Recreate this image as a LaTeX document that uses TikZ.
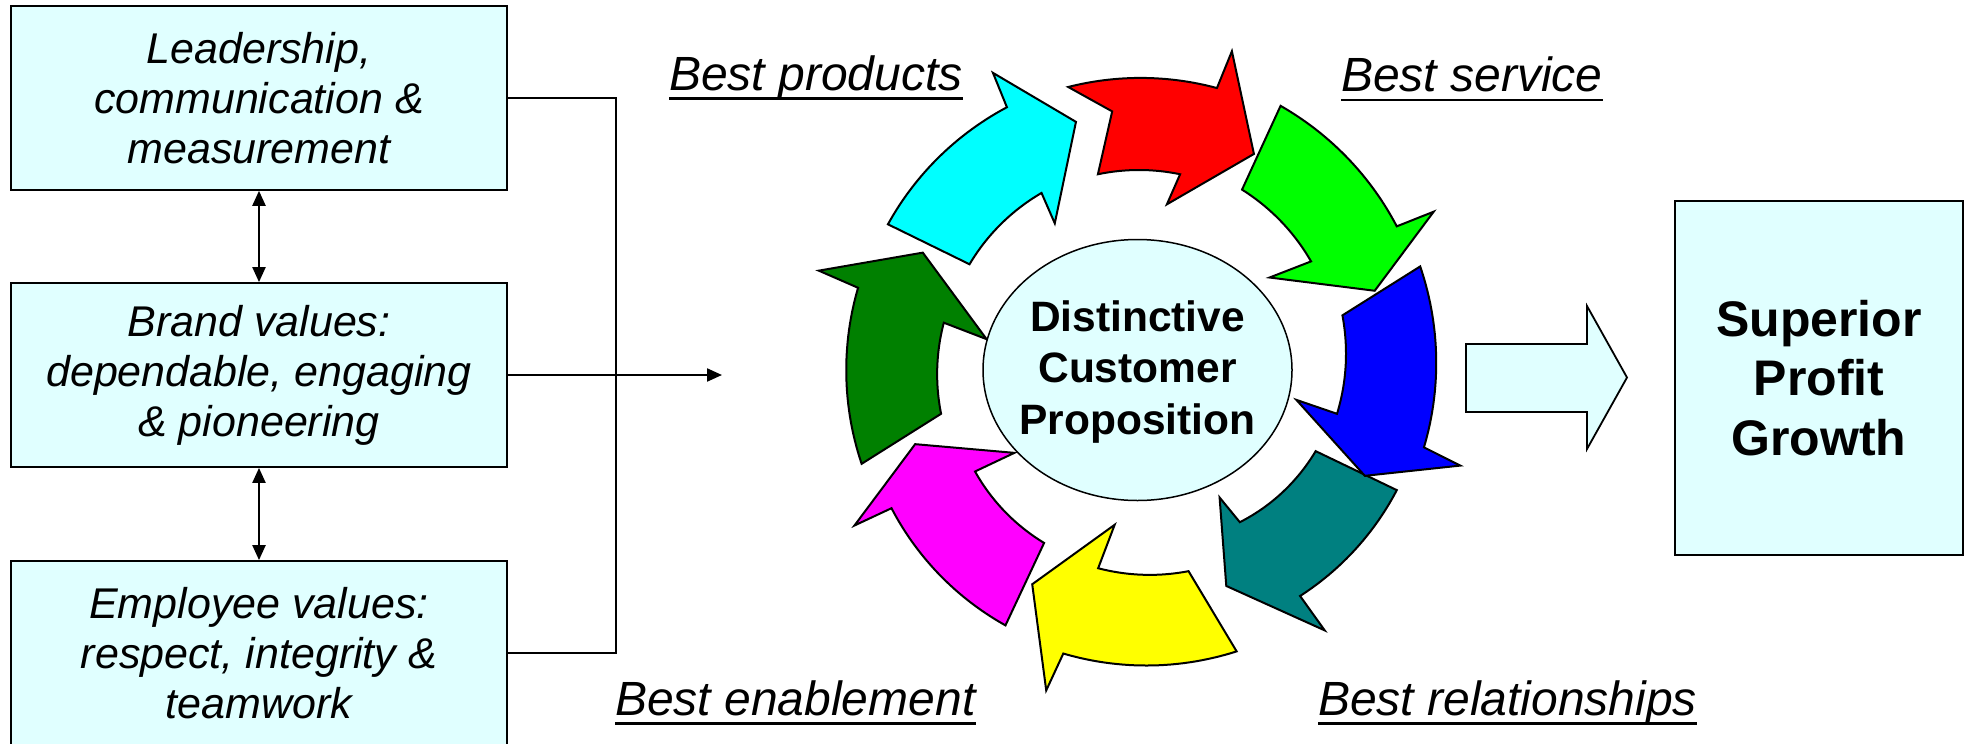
\documentclass[tikz,border=0pt]{standalone}
\usepackage{fontspec}
\setmainfont{Liberation Sans}
\usetikzlibrary{arrows.meta,shapes.geometric}
\definecolor{boxfill}{RGB}{224,255,255}
\definecolor{dkgreen}{RGB}{0,128,0}
\definecolor{tealc}{RGB}{0,128,128}
\definecolor{cyanc}{RGB}{0,255,255}
\definecolor{redc}{RGB}{255,0,0}
\definecolor{greenc}{RGB}{0,255,0}
\definecolor{bluec}{RGB}{0,0,255}
\definecolor{yellowc}{RGB}{255,255,0}
\definecolor{magentac}{RGB}{255,0,255}
\newcommand\arcto[4]{-- plot[domain=#1:#3,samples=30,variable=\t] (\t:{#2+(#4-#2)*(\t-(#1))/((#3)-(#1))})}
\newcommand\boxfont{\itshape\fontsize{43}{50}\selectfont}
\newcommand\lblfont{\itshape\fontsize{48}{54}\selectfont}
\tikzset{
  lbox/.style={draw, line width=1.8pt, fill=boxfill, minimum width=496pt, minimum height=184pt,
    inner sep=0pt, align=center, font=\boxfont},
  lbl/.style={inner sep=0pt, font=\lblfont},
  uline/.style={line width=2.5pt},
  conn/.style={line width=2.2pt},
  tipd/.style={-{Triangle[length=15pt,width=13pt]}},
  tipdd/.style={{Triangle[length=15pt,width=13pt]}-{Triangle[length=15pt,width=13pt]}},
  cyc/.style={draw=black, line width=2pt, line join=miter},
}
\begin{document}
\begin{tikzpicture}[x=1pt,y=-1pt]
\useasboundingbox (0,0) rectangle (1968,744);
\clip (0,0) rectangle (1968,744);

% left boxes
\node[lbox] (b1) at (259,97.9) {Leadership,\\communication \&\\measurement};
\node[lbox] (b2) at (259,375) {Brand values:\\dependable, engaging\\\& pioneering};
\node[lbox] (b3) at (259,653) {Employee values:\\respect, integrity \&\\teamwork};

\draw[conn,tipdd] (b1.south) -- (b2.north);
\draw[conn,tipdd] (b2.south) -- (b3.north);
\coordinate (brk) at (616,375);
\draw[conn] (b1.east) -| (brk) |- (b3.east);
\coordinate (cycin) at (722,375);
\draw[conn,tipd] (b2.east) -- (cycin);

% labels
\node[lbl, anchor=base west] (lp) at (669,90) {Best products};
\node[lbl, anchor=base west] (ls) at (1341,91.5) {Best service};
\node[lbl, anchor=base west] (le) at (615,715) {Best enablement};
\node[lbl, anchor=base west] (lr) at (1318,715) {Best relationships};
\foreach \n in {lp,ls,le,lr}
  \draw[uline] ([yshift=-8.5pt]\n.base west) -- ([yshift=-8.5pt]\n.base east);

% cycle of arrows
\begin{scope}[shift={(1139pt,-371pt)}, x=1pt, y=1pt]
\filldraw[cyc, fill=cyanc] (149.7:290.8) \arcto{149.7}{290.8}{116.6}{295} -- (116.1:332) -- (104.2:257)
  -- (119.7:170) -- (118.7:203) \arcto{118.7}{203}{147.8}{200.3} -- cycle;
\filldraw[cyc, fill=redc] (104:292.7) \arcto{104}{292.7}{74.6}{293.5} -- (73.8:333) -- (62.1:245.6)
  -- (80.5:169) -- (78.2:201) \arcto{78.2}{201}{101.8}{201} -- (95.9:261) -- cycle;
\filldraw[cyc, fill=greenc] (61.9:300.6) \arcto{61.9}{300.6}{29.3}{295.6} -- (28.4:335) -- (18.8:249)
  -- (35.6:160.6) -- (32.5:204) \arcto{32.5}{204}{60.4}{208.6} -- cycle;
\filldraw[cyc, fill=tealc] (-24.8:284) \arcto{-24.8}{284}{-54.4}{276.7} -- (-54.4:319) -- (-67.9:232)
  -- (-57.5:150) -- (-56.3:181.7) \arcto{-56.3}{181.7}{-24.4}{194} -- cycle;
\filldraw[cyc, fill=bluec] (20.4:300) \arcto{20.4}{300}{-15.0}{295} -- (-16.4:335) -- (-24.9:249)
  -- (-10.4:160) -- (-12.2:202.6) \arcto{-12.2}{202.6}{15.3}{210.9} -- cycle;
\filldraw[cyc, fill=yellowc] (-70.8:296.9) \arcto{-70.8}{296.9}{-105.0}{292.5} -- (-106.2:332.6) -- (-116.6:238.5)
  -- (-99.0:155.7) -- (-101.7:201.4) \arcto{-101.7}{201.4}{-76.1}{206.2} -- cycle;
\filldraw[cyc, fill=magentac] (-117.7:287.3) \arcto{-117.7}{287.3}{-151.0}{283} -- (-151.5:323.8) -- (-161.9:235.5)
  -- (-146.7:149.1) -- (-148.5:192.3) \arcto{-148.5}{192.3}{-118.9}{196.4} -- cycle;
\filldraw[cyc, fill=dkgreen] (198.5:292.5) \arcto{198.5}{292.5}{163.5}{293} -- (162.6:335.6) -- (151.3:246.5)
  -- (168.2:155.7) -- (166.1:201.1) \arcto{166.1}{201.1}{192.2}{202.5} -- cycle;
\end{scope}

% centre ellipse
\node[ellipse, draw, line width=1.5pt, fill=boxfill, minimum width=309pt, minimum height=261pt, inner sep=0pt] (dcp) at (1137.5,370) {};
\node[inner sep=0pt, align=center, font=\bfseries\fontsize{42.5}{51.6}\selectfont] (dcpt) at (1137.5,372) {Distinctive\\Customer\\Proposition};

% block arrow and result box
\filldraw[line width=1.8pt, fill=boxfill] (1466,344) -- (1587,344) -- (1587,306) -- (1627,377.5)
  -- (1587,449) -- (1587,412) -- (1466,412) -- cycle;
\node[draw, line width=1.8pt, fill=boxfill, minimum width=288pt, minimum height=354pt, inner sep=0pt,
  align=center, font=\bfseries\fontsize{50}{59.2}\selectfont] (spg) at (1819,378) {Superior\\Profit\\Growth};
\end{tikzpicture}
\end{document}
